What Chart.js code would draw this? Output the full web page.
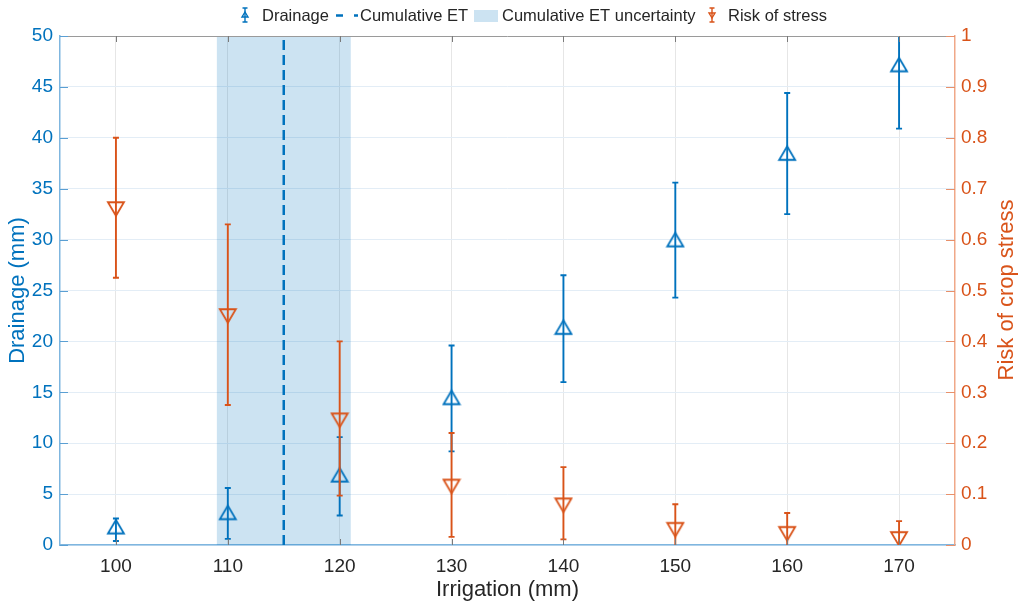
<!DOCTYPE html>
<html><head><meta charset="utf-8">
<script src="https://cdn.jsdelivr.net/npm/chart.js@4.4.1/dist/chart.umd.min.js"></script>
<style>html,body{margin:0;padding:0;background:#fff}#wrap{width:1026px;height:605px}</style>
</head><body><div id="wrap"><canvas id="c" width="1026" height="605"></canvas></div>
<script>
// ---- data ----
const irrigation = [100, 110, 120, 130, 140, 150, 160, 170];
const drainage = [1.8, 3.2, 6.9, 14.5, 21.4, 30.0, 38.5, 47.2];
const drainageLow = [0.4, 0.6, 2.9, 9.2, 16.0, 24.3, 32.5, 40.9];
const drainageHigh = [2.6, 5.6, 10.6, 19.6, 26.5, 35.6, 44.4, 53.5];
const riskOfStress = [0.66, 0.45, 0.245, 0.115, 0.078, 0.03, 0.022, 0.012];
const riskLow = [0.525, 0.275, 0.097, 0.016, 0.011, -0.02, -0.02, -0.022];
const riskHigh = [0.80, 0.63, 0.40, 0.22, 0.153, 0.08, 0.063, 0.047];
const cumulativeET = 115;
const cumulativeETRange = [109, 121];
const xTicks = [100, 110, 120, 130, 140, 150, 160, 170];
const drainageTicks = [0, 5, 10, 15, 20, 25, 30, 35, 40, 45, 50];
const riskTicks = [0, 0.1, 0.2, 0.3, 0.4, 0.5, 0.6, 0.7, 0.8, 0.9, 1];
const legendLabels = ['Drainage', 'Cumulative ET', 'Cumulative ET uncertainty', 'Risk of stress'];

const BLUE = '#0072BD', ORANGE = '#D95319', SHADE = 'rgba(0,114,189,0.2)';
const FONT = '"Liberation Sans", Arial, Helvetica, sans-serif';

function triImage(color, down) {
  const c = document.createElement('canvas');
  c.width = 20; c.height = 18;
  const g = c.getContext('2d');
  g.strokeStyle = color; g.lineWidth = 1.8; g.lineJoin = 'miter';
  g.beginPath();
  if (!down) { g.moveTo(10, 2.25); g.lineTo(18, 15.75); g.lineTo(2, 15.75); }
  else { g.moveTo(10, 15.75); g.lineTo(18, 2.25); g.lineTo(2, 2.25); }
  g.closePath(); g.stroke();
  return c;
}

const errorBars = {
  id: 'errorBars',
  afterDatasetDraw(chart, args) {
    const ds = chart.data.datasets[args.index];
    if (!ds.errLow) return;
    const ctx = chart.ctx, a = chart.chartArea;
    const xs = chart.scales.x, ys = chart.scales[ds.yAxisID];
    ctx.save();
    ctx.beginPath(); ctx.rect(a.left, a.top, a.right - a.left, a.bottom - a.top); ctx.clip();
    ctx.strokeStyle = ds.borderColor; ctx.lineWidth = 1.9;
    irrigation.forEach((xv, i) => {
      const x = xs.getPixelForValue(xv);
      const yl = ys.getPixelForValue(ds.errLow[i]);
      const yh = ys.getPixelForValue(ds.errHigh[i]);
      ctx.beginPath();
      ctx.moveTo(x, yl); ctx.lineTo(x, yh);
      ctx.moveTo(x - 3, yl); ctx.lineTo(x + 3, yl);
      ctx.moveTo(x - 3, yh); ctx.lineTo(x + 3, yh);
      ctx.stroke();
    });
    ctx.restore();
  }
};

const decorations = {
  id: 'decorations',
  afterDraw(chart) {
    const ctx = chart.ctx, a = chart.chartArea;
    const xs = chart.scales.x, yl = chart.scales.y, yr = chart.scales.y1;
    ctx.save();
    // top box line
    ctx.strokeStyle = '#9a9a9a'; ctx.lineWidth = 1;
    ctx.beginPath(); ctx.moveTo(a.left, a.top + 0.5); ctx.lineTo(a.right, a.top + 0.5); ctx.stroke();
    // x ticks inward
    ctx.strokeStyle = '#7a7a7a';
    xTicks.forEach(v => {
      const x = Math.round(xs.getPixelForValue(v)) + 0.5;
      ctx.beginPath();
      ctx.moveTo(x, a.bottom); ctx.lineTo(x, a.bottom - 6);
      ctx.moveTo(x, a.top); ctx.lineTo(x, a.top + 6);
      ctx.stroke();
    });
    // left ticks
    ctx.strokeStyle = '#5a9fd3';
    drainageTicks.forEach(v => {
      const y = Math.round(yl.getPixelForValue(v)) + 0.5;
      ctx.beginPath(); ctx.moveTo(a.left, y); ctx.lineTo(a.left + 8, y); ctx.stroke();
    });
    // right ticks
    ctx.strokeStyle = '#e8906a';
    riskTicks.forEach(v => {
      const y = Math.round(yr.getPixelForValue(v)) + 0.5;
      ctx.beginPath(); ctx.moveTo(a.right, y); ctx.lineTo(a.right - 9, y); ctx.stroke();
    });
    // right axis title
    ctx.save();
    ctx.translate(1007, 290);
    ctx.rotate(-Math.PI / 2);
    ctx.fillStyle = ORANGE; ctx.font = '22px ' + FONT;
    ctx.textAlign = 'center'; ctx.textBaseline = 'middle';
    ctx.fillText('Risk of crop stress', 0, 0);
    ctx.restore();
    // legend
    ctx.font = '16.5px ' + FONT; ctx.fillStyle = '#262626';
    ctx.textAlign = 'left'; ctx.textBaseline = 'alphabetic';
    const by = 21;
    function ebIcon(x, color, down) {
      ctx.strokeStyle = color; ctx.lineWidth = 1.4;
      ctx.beginPath();
      ctx.moveTo(x, 8); ctx.lineTo(x, 22);
      ctx.moveTo(x - 2.5, 8); ctx.lineTo(x + 2.5, 8);
      ctx.moveTo(x - 2.5, 22); ctx.lineTo(x + 2.5, 22);
      ctx.stroke();
      ctx.beginPath();
      if (!down) { ctx.moveTo(x, 12); ctx.lineTo(x + 3, 17); ctx.lineTo(x - 3, 17); }
      else { ctx.moveTo(x, 18); ctx.lineTo(x + 3, 13); ctx.lineTo(x - 3, 13); }
      ctx.closePath(); ctx.stroke();
    }
    ebIcon(245, BLUE, false);
    ctx.fillText(legendLabels[0], 262, by);
    ctx.strokeStyle = BLUE; ctx.lineWidth = 2.5;
    ctx.beginPath(); ctx.moveTo(336, 15.5); ctx.lineTo(343, 15.5); ctx.moveTo(354, 15.5); ctx.lineTo(358, 15.5); ctx.stroke();
    ctx.fillText(legendLabels[1], 360, by);
    ctx.fillStyle = SHADE; ctx.fillRect(474, 10, 24, 12);
    ctx.fillStyle = '#262626';
    ctx.fillText(legendLabels[2], 502, by);
    ebIcon(712, ORANGE, true);
    ctx.fillText(legendLabels[3], 728, by);
    ctx.restore();
  }
};

const chart = new Chart(document.getElementById('c'), {
  data: {
    datasets: [
      {
        type: 'scatter', label: legendLabels[3], yAxisID: 'y1', order: 0,
        data: irrigation.map((x, i) => ({ x, y: riskOfStress[i] })),
        errLow: riskLow, errHigh: riskHigh,
        borderColor: ORANGE, backgroundColor: ORANGE,
        pointStyle: triImage(ORANGE, true), pointRadius: 9, pointHoverRadius: 9
      },
      {
        type: 'scatter', label: legendLabels[0], yAxisID: 'y', order: 1,
        data: irrigation.map((x, i) => ({ x, y: drainage[i] })),
        errLow: drainageLow, errHigh: drainageHigh,
        borderColor: BLUE, backgroundColor: BLUE,
        pointStyle: triImage(BLUE, false), pointRadius: 9, pointHoverRadius: 9
      },
      {
        type: 'line', label: legendLabels[1], yAxisID: 'y', order: 2,
        data: [{ x: cumulativeET, y: drainageTicks[0] }, { x: cumulativeET, y: drainageTicks[drainageTicks.length - 1] }],
        borderColor: BLUE, borderWidth: 2.5, borderDash: [10, 5], pointRadius: 0, fill: false
      },
      {
        type: 'line', label: legendLabels[2], yAxisID: 'y', order: 3,
        data: [{ x: cumulativeETRange[0], y: drainageTicks[drainageTicks.length - 1] }, { x: cumulativeETRange[1], y: drainageTicks[drainageTicks.length - 1] }],
        borderWidth: 0, borderColor: 'rgba(0,0,0,0)', backgroundColor: SHADE, pointRadius: 0, fill: 'origin'
      }
    ]
  },
  options: {
    responsive: false, animation: false, devicePixelRatio: 1,
    layout: { padding: { top: 36, left: 0, right: 0, bottom: 0 } },
    plugins: { legend: { display: false }, tooltip: { enabled: false }, title: { display: false } },
    scales: {
      x: {
        type: 'linear', position: 'bottom', min: 95, max: 175,
        afterBuildTicks: s => { s.ticks = xTicks.map(v => ({ value: v })); },
        afterFit: s => { s.height = 60; },
        grid: { color: '#e6e6e6', lineWidth: 1, drawTicks: false },
        border: { color: '#7fb6df', width: 1.5 },
        ticks: { color: '#262626', font: { family: FONT, size: 19 }, padding: 10, maxRotation: 0 },
        title: { display: true, text: 'Irrigation (mm)', color: '#262626', font: { family: FONT, size: 22 }, padding: { top: 0, bottom: 2 } }
      },
      y: {
        type: 'linear', position: 'left', min: 0, max: 50,
        afterBuildTicks: s => { s.ticks = drainageTicks.map(v => ({ value: v })); },
        afterFit: s => { s.width = 60; },
        grid: { color: '#e3edf6', lineWidth: 1, drawTicks: false },
        border: { color: '#7fb6df', width: 1.5 },
        ticks: { color: BLUE, font: { family: FONT, size: 19 }, padding: 7 },
        title: { display: true, text: 'Drainage (mm)', color: BLUE, font: { family: FONT, size: 22 }, padding: { top: 5, bottom: 0 } }
      },
      y1: {
        type: 'linear', position: 'right', min: 0, max: 1,
        afterBuildTicks: s => { s.ticks = riskTicks.map(v => ({ value: v })); },
        afterFit: s => { s.width = 71; },
        grid: { display: false, drawTicks: false },
        border: { color: '#f0a888', width: 1.5 },
        ticks: { color: ORANGE, font: { family: FONT, size: 19 }, padding: 6, callback: v => String(+v.toFixed(1)) }
      }
    }
  },
  plugins: [errorBars, decorations]
});
</script></body></html>
